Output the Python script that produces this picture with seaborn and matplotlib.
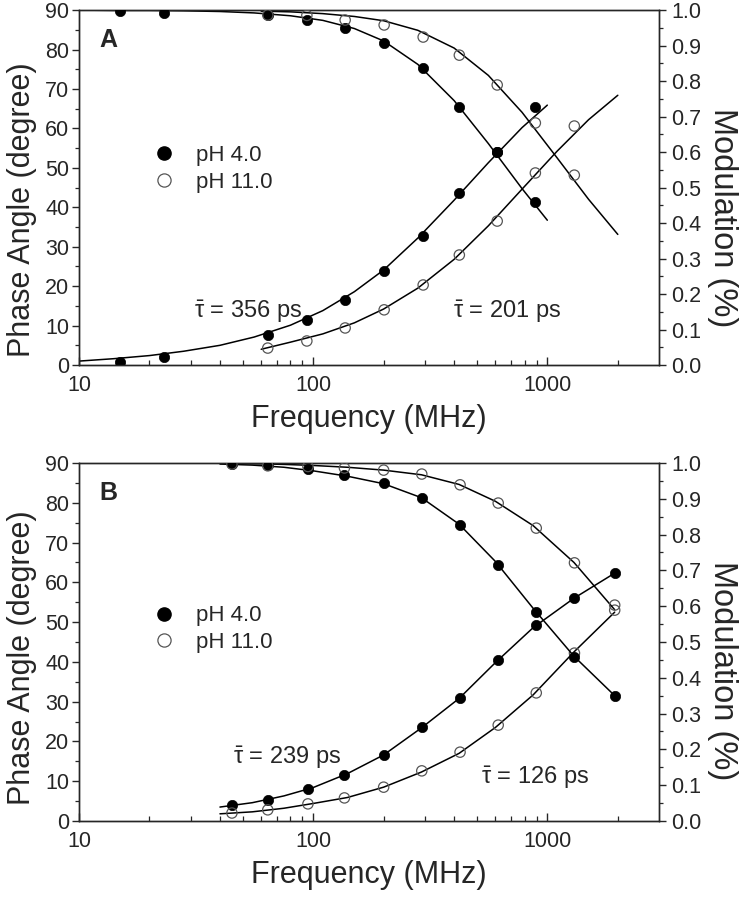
import matplotlib
matplotlib.use("Agg")
import matplotlib.pyplot as plt
from matplotlib.lines import Line2D
from matplotlib.ticker import MultipleLocator, FixedLocator, FixedFormatter, NullFormatter
import seaborn as sns

# -------------------------------------------------
# Panel A: measured points (frequency in MHz)
# -------------------------------------------------
a_freq_ph4 = [15, 23, 64, 94, 137, 201, 295, 421, 611, 889]
a_phase_ph4 = [0.8, 2.0, 7.6, 11.4, 16.5, 23.8, 32.7, 43.6, 54.0, 65.4]
a_mod_ph4 = [0.997, 0.992, 0.985, 0.972, 0.949, 0.907, 0.837, 0.727, 0.600, 0.459]

a_freq_ph11 = [64, 94, 137, 201, 295, 421, 611, 889, 1304]
a_phase_ph11 = [4.3, 6.1, 9.4, 14.0, 20.3, 27.9, 36.5, 48.7, 60.6]
a_mod_ph11 = [0.986, 0.985, 0.972, 0.958, 0.924, 0.873, 0.789, 0.682, 0.535]

# Panel A: fitted curves
a_fit_freq_ph4 = [10, 14, 20, 28, 40, 56, 80, 110, 150, 200, 280, 400, 560, 780, 1000]
a_fit_phase_ph4 = [1.0, 1.6, 2.4, 3.5, 5.0, 7.1, 10.1, 13.8, 18.6, 24.1, 32.2, 41.8, 51.3, 60.2, 65.9]
a_fit_mod_ph4 = [1.0, 0.999, 0.999, 0.998, 0.996, 0.992, 0.984, 0.971, 0.948, 0.913, 0.847, 0.745, 0.624, 0.497, 0.408]

a_fit_freq_ph11 = [60, 80, 110, 150, 200, 280, 400, 560, 780, 1100, 1500, 2000]
a_fit_phase_ph11 = [4.0, 5.8, 7.9, 10.7, 14.2, 19.5, 26.8, 35.3, 44.6, 54.2, 62.2, 68.4]
a_fit_mod_ph11 = [0.997, 0.995, 0.990, 0.982, 0.970, 0.943, 0.893, 0.816, 0.712, 0.584, 0.467, 0.368]

# -------------------------------------------------
# Panel B: measured points
# -------------------------------------------------
b_freq = [45, 64, 95, 136, 200, 291, 424, 617, 897, 1306, 1940]
b_phase_ph4 = [4.0, 5.3, 8.0, 11.6, 16.6, 23.6, 30.9, 40.5, 49.3, 56.1, 62.3]
b_mod_ph4 = [0.996, 0.993, 0.983, 0.966, 0.944, 0.902, 0.827, 0.715, 0.584, 0.458, 0.349]
b_phase_ph11 = [2.0, 2.8, 4.3, 5.8, 8.5, 12.6, 17.3, 24.1, 32.2, 42.2, 53.0]
b_mod_ph11 = [0.997, 0.992, 0.990, 0.986, 0.980, 0.969, 0.939, 0.888, 0.818, 0.721, 0.603]

# Panel B: fitted curves
b_fit_freq = [40, 55, 75, 100, 140, 200, 290, 420, 600, 870, 1300, 1940]
b_fit_phase_ph4 = [3.5, 4.6, 6.3, 8.4, 11.9, 16.6, 23.4, 30.8, 39.8, 48.6, 56.0, 62.3]
b_fit_mod_ph4 = [0.997, 0.994, 0.988, 0.978, 0.963, 0.942, 0.903, 0.829, 0.725, 0.594, 0.460, 0.350]
b_fit_phase_ph11 = [1.8, 2.3, 3.2, 4.4, 5.9, 8.5, 12.3, 17.0, 23.5, 31.7, 42.5, 52.5]
b_fit_mod_ph11 = [0.999, 0.998, 0.996, 0.993, 0.988, 0.980, 0.967, 0.940, 0.893, 0.825, 0.722, 0.590]

legend_labels = ["pH 4.0", "pH 11.0"]

# -------------------------------------------------
# Style
# -------------------------------------------------
sns.set_style("ticks")
plt.rcParams["font.family"] = ["Liberation Sans", "DejaVu Sans"]
plt.rcParams["mathtext.fontset"] = "custom"
plt.rcParams["mathtext.rm"] = "Liberation Sans"
plt.rcParams["mathtext.it"] = "Liberation Sans"
plt.rcParams["mathtext.bf"] = "Liberation Sans:bold"
plt.rcParams["axes.linewidth"] = 1.0

open_edge = "#555555"


def draw_panel(ax, letter, fits, points, tau_texts, legend_y, left_label_y, right_label_y):
    ax.set_xscale("log")
    ax2 = ax.twinx()

    # fitted curves
    for freq, phase, mod in fits:
        sns.lineplot(x=freq, y=phase, ax=ax, color="black", linewidth=1.1)
        sns.lineplot(x=freq, y=mod, ax=ax2, color="black", linewidth=1.1)

    # measured points
    for freq, phase, mod, filled in points:
        if filled:
            kw = dict(color="black", edgecolor="black", linewidth=0.5)
        else:
            kw = dict(facecolor="none", edgecolor=open_edge, linewidth=0.9)
        sns.scatterplot(x=freq, y=phase, ax=ax, s=55, marker="o", zorder=3, **kw)
        sns.scatterplot(x=freq, y=mod, ax=ax2, s=55, marker="o", zorder=3, **kw)

    ax.set_xlim(10, 3000)
    ax.set_ylim(0, 90)
    ax2.set_ylim(0, 1.0)

    ax.xaxis.set_major_locator(FixedLocator([10, 100, 1000]))
    ax.xaxis.set_major_formatter(FixedFormatter(["10", "100", "1000"]))
    minors = [20, 30, 40, 50, 60, 70, 80, 90, 200, 300, 400, 500, 600, 700, 800, 900, 2000]
    ax.xaxis.set_minor_locator(FixedLocator(minors))
    ax.xaxis.set_minor_formatter(NullFormatter())
    ax.yaxis.set_major_locator(MultipleLocator(10))
    ax.yaxis.set_minor_locator(MultipleLocator(5))
    ax2.yaxis.set_major_locator(MultipleLocator(0.1))
    ax2.yaxis.set_minor_locator(MultipleLocator(0.05))
    ax2.yaxis.set_major_formatter(plt.FormatStrFormatter("%.1f"))

    ax.tick_params(axis="x", which="major", direction="in", length=6, width=1.0,
                   labelsize=15.5, pad=7, top=False)
    ax.tick_params(axis="x", which="minor", direction="in", length=3.5, width=0.9, top=False)
    ax.tick_params(axis="y", which="major", direction="out", length=5, width=1.0,
                   labelsize=15.5, pad=2, right=False)
    ax.tick_params(axis="y", which="minor", direction="out", length=3, width=0.9, right=False)
    ax2.tick_params(axis="y", which="major", direction="out", length=5, width=1.0,
                    labelsize=15.5, pad=4)
    ax2.tick_params(axis="y", which="minor", direction="out", length=3, width=0.9)

    ax.set_xlabel("Frequency (MHz)", fontsize=22, labelpad=6)
    ax.set_ylabel("Phase Angle (degree)", fontsize=22, labelpad=6)
    ax.yaxis.label.set_y(left_label_y)
    ax2.set_ylabel("Modulation (%)", fontsize=23.5, rotation=270, labelpad=26)
    ax2.yaxis.label.set_y(right_label_y)

    ax.text(0.035, 0.915, letter, transform=ax.transAxes, fontsize=18,
            fontweight="bold", ha="left", va="center")

    for x, y, s in tau_texts:
        ax.text(x, y, s, transform=ax.transAxes, fontsize=17, ha="left", va="center")

    handles = [
        Line2D([], [], linestyle="none", marker="o", markersize=9.5,
               markerfacecolor="black", markeredgecolor="black"),
        Line2D([], [], linestyle="none", marker="o", markersize=9.5,
               markerfacecolor="none", markeredgecolor=open_edge, markeredgewidth=0.9),
    ]
    ax2.legend(handles, legend_labels, loc="center left",
               bbox_to_anchor=(0.109, legend_y), frameon=False, fontsize=16,
               handlelength=1.0, handletextpad=0.9, borderpad=0.0,
               labelspacing=0.25)
    return ax2


fig = plt.figure(figsize=(7.43, 9.0), dpi=100)

ax_a = fig.add_axes([0.1063, 0.5944, 0.7807, 0.3944])
draw_panel(
    ax_a, "A",
    fits=[(a_fit_freq_ph4, a_fit_phase_ph4, a_fit_mod_ph4),
          (a_fit_freq_ph11, a_fit_phase_ph11, a_fit_mod_ph11)],
    points=[(a_freq_ph4, a_phase_ph4, a_mod_ph4, True),
            (a_freq_ph11, a_phase_ph11, a_mod_ph11, False)],
    tau_texts=[(0.198, 0.15, r"$\bar{\tau}$ = 356 ps"),
               (0.644, 0.15, r"$\bar{\tau}$ = 201 ps")],
    legend_y=0.553,
    left_label_y=0.437,
    right_label_y=0.414,
)

ax_b = fig.add_axes([0.1063, 0.0878, 0.7807, 0.3978])
draw_panel(
    ax_b, "B",
    fits=[(b_fit_freq, b_fit_phase_ph4, b_fit_mod_ph4),
          (b_fit_freq, b_fit_phase_ph11, b_fit_mod_ph11)],
    points=[(b_freq, b_phase_ph4, b_mod_ph4, True),
            (b_freq, b_phase_ph11, b_mod_ph11, False)],
    tau_texts=[(0.265, 0.178, r"$\bar{\tau}$ = 239 ps"),
               (0.693, 0.122, r"$\bar{\tau}$ = 126 ps")],
    legend_y=0.536,
    left_label_y=0.457,
    right_label_y=0.42,
)

fig.savefig("out.png", dpi=100)
